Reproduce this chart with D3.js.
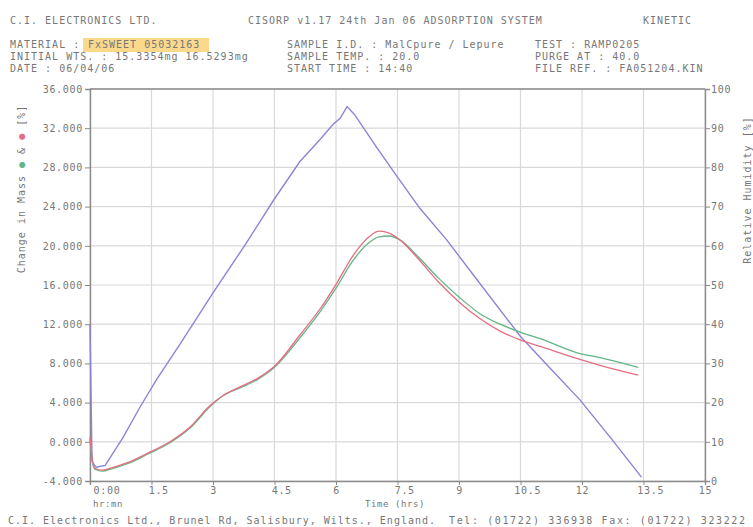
<!DOCTYPE html>
<html><head><meta charset="utf-8">
<script src="https://cdn.jsdelivr.net/npm/d3@7"></script>
<style>
html,body{margin:0;padding:0;background:#fff;}
svg{display:block;}
text{font-family:"DejaVu Sans Mono","Liberation Mono",monospace;font-size:10px;fill:#777;}
</style></head>
<body>
<script>
// ---- data ----
const xTicks = [0, 1.5, 3, 4.5, 6, 7.5, 9, 10.5, 12, 13.5, 15];
const xTickLabels = ["0:00", "1.5", "3", "4.5", "6", "7.5", "9", "10.5", "12", "13.5", "15"];
const yLeftTicks = [36, 32, 28, 24, 20, 16, 12, 8, 4, 0, -4];
const yLeftLabels = ["36.000", "32.000", "28.000", "24.000", "20.000", "16.000", "12.000", "8.000", "4.000", "0.000", "-4.000"];
const yRightTicks = [100, 90, 80, 70, 60, 50, 40, 30, 20, 10, 0];

// relative humidity (%), right axis
const timeRH = [0, 0.05, 0.15, 0.37, 0.8, 1.2, 1.63, 2.2, 3.0, 3.8, 4.5, 5.12, 5.6, 5.93, 6.1, 6.27, 6.45, 7.0, 7.5, 8.05, 8.7, 9.5, 10.49, 11.2, 11.95, 12.7, 13.45];
const humidity = [40, 5, 3.5, 4, 11, 18.5, 26, 35, 48, 60.5, 72, 81.5, 87, 91, 92.5, 95.5, 93.5, 85, 77.5, 69.5, 61.5, 50.5, 37, 29, 20.7, 11, 1];

// change in mass (%), left axis
const timeMass = [0, 0.05, 0.12, 0.3, 0.56, 1.0, 1.39, 1.95, 2.44, 2.93, 3.24, 3.66, 4.1, 4.5, 5.12, 5.6, 6.02, 6.4, 6.8, 7.05, 7.3, 7.56, 8.0, 8.5, 9.02, 9.5, 10.0, 10.49, 11.0, 11.95, 12.44, 13.37];
const massA = [0.3, -1.8, -2.8, -3.0, -2.7, -2.1, -1.3, -0.1, 1.4, 3.6, 4.7, 5.5, 6.4, 7.6, 10.6, 13.2, 15.8, 18.4, 20.3, 20.9, 21.0, 20.6, 18.9, 16.7, 14.7, 13.1, 12.0, 11.2, 10.5, 9.0, 8.6, 7.6];
const massB = [0.5, -1.6, -2.7, -2.9, -2.6, -2.0, -1.2, 0.0, 1.5, 3.7, 4.7, 5.6, 6.5, 7.7, 10.9, 13.5, 16.2, 18.9, 20.9, 21.5, 21.3, 20.6, 18.7, 16.3, 14.2, 12.6, 11.3, 10.4, 9.7, 8.4, 7.8, 6.8];

const headerLines = [
  {x: 10, y: 24, t: "C.I. ELECTRONICS LTD."},
  {x: 248, y: 24, t: "CISORP v1.17 24th Jan 06  ADSORPTION SYSTEM"},
  {x: 643, y: 24, t: "KINETIC"},
  {x: 10, y: 48, t: "MATERIAL :"},
  {x: 10, y: 60, t: "INITIAL WTS. :  15.3354mg  16.5293mg"},
  {x: 10, y: 72, t: "DATE : 06/04/06"},
  {x: 287, y: 48, t: "SAMPLE I.D. : MalCpure / Lepure"},
  {x: 287, y: 60, t: "SAMPLE TEMP. : 20.0"},
  {x: 287, y: 72, t: "START TIME : 14:40"},
  {x: 535, y: 48, t: "TEST : RAMP0205"},
  {x: 535, y: 60, t: "PURGE AT : 40.0"},
  {x: 535, y: 72, t: "FILE REF. : FA051204.KIN"}
];
const materialName = "FxSWEET 05032163";

// ---- drawing ----
const W = 753, H = 527;
const colA = "#62b584", colB = "#e56f82", colRH = "#8c84d6";
const svg = d3.select("body").append("svg").attr("width", W).attr("height", H);

const x = d3.scaleLinear().domain([0, 15]).range([90, 705]);
const yL = d3.scaleLinear().domain([-4, 36]).range([481, 89]);
const yR = d3.scaleLinear().domain([0, 100]).range([481, 89]);

// header
const ls = 1.0;
svg.append("rect").attr("x", 83).attr("y", 38).attr("width", 126).attr("height", 14).attr("fill", "#fbd98c");
headerLines.forEach(h => {
  svg.append("text").attr("x", h.x).attr("y", h.y).attr("letter-spacing", ls).text(h.t);
});
svg.append("text").attr("x", 88).attr("y", 48).attr("letter-spacing", ls).text(materialName);

// grid
const g = svg.append("g");
g.selectAll("line.hg").data(yLeftTicks).join("line")
  .attr("x1", x(0)).attr("x2", x(15)).attr("y1", d => yL(d)).attr("y2", d => yL(d))
  .attr("stroke", "#d9d9d9").attr("stroke-width", 1.2);
g.selectAll("line.vg").data(xTicks).join("line")
  .attr("x1", d => x(d)).attr("x2", d => x(d)).attr("y1", yL(36)).attr("y2", yL(-4))
  .attr("stroke", "#d9d9d9").attr("stroke-width", 1.2);

// axes
const axL = d3.axisLeft(yL).tickValues(yLeftTicks).tickSize(5).tickPadding(2)
  .tickFormat((d, i) => yLeftLabels[i]);
const gL = svg.append("g").attr("transform", `translate(${x(0)},0)`).call(axL);
const axR = d3.axisRight(yR).tickValues(yRightTicks).tickSize(5).tickPadding(1);
const gR = svg.append("g").attr("transform", `translate(${x(15)},0)`).call(axR);
const axB = d3.axisBottom(x).tickValues(xTicks).tickSize(4).tickPadding(2)
  .tickFormat((d, i) => xTickLabels[i]);
const gB = svg.append("g").attr("transform", `translate(0,${yL(-4)})`).call(axB);
[gL, gR, gB].forEach(a => {
  a.select(".domain").attr("stroke", "#8a8a8a").attr("stroke-width", 1.4);
  a.selectAll(".tick line").attr("stroke", "#8a8a8a");
  a.selectAll("text").attr("fill", "#777").style("font-size", "10px")
   .style("font-family", '"DejaVu Sans Mono","Liberation Mono",monospace').attr("letter-spacing", 0.7);
});
// integer part centred on the tick
gB.selectAll(".tick text").attr("text-anchor", "start").attr("dx", (d, i) => {
  const s = xTickLabels[i];
  if (i === 0) return 3;
  const intLen = s.split(".")[0].length;
  return -intLen * 6.7 / 2;
});
// top border
svg.append("line").attr("x1", x(0)).attr("x2", x(15)).attr("y1", yL(36)).attr("y2", yL(36))
  .attr("stroke", "#8a8a8a").attr("stroke-width", 1.4);

// lines
const lineRH = d3.line().x((d, i) => x(timeRH[i])).y(d => yR(d));
svg.append("path").datum(humidity).attr("d", lineRH).attr("fill", "none")
  .attr("stroke", colRH).attr("stroke-width", 1.4);

const lineM = d3.line().x((d, i) => x(timeMass[i])).y(d => yL(d)).curve(d3.curveMonotoneX);
svg.append("path").datum(massA).attr("d", lineM).attr("fill", "none")
  .attr("stroke", colA).attr("stroke-width", 1.3);
svg.append("path").datum(massB).attr("d", lineM).attr("fill", "none")
  .attr("stroke", colB).attr("stroke-width", 1.3);

// axis labels
svg.append("text").attr("x", 108).attr("y", 507).attr("text-anchor", "middle").attr("letter-spacing", 0.6)
  .style("font-size", "9px").text("hr:mn");
svg.append("text").attr("x", 395).attr("y", 507).attr("text-anchor", "middle").attr("letter-spacing", 0.6)
  .style("font-size", "9px").text("Time (hrs)");

const yl = svg.append("text").attr("transform", "translate(25,189) rotate(-90)")
  .attr("text-anchor", "middle").attr("letter-spacing", 1);
yl.append("tspan").text("Change in Mass ");
yl.append("tspan").attr("fill", colA).text("●");
yl.append("tspan").text(" & ");
yl.append("tspan").attr("fill", colB).text("●");
yl.append("tspan").text(" [%]");

svg.append("text").attr("transform", "translate(751,190) rotate(-90)")
  .attr("text-anchor", "middle").attr("letter-spacing", 1).attr("fill", colRH)
  .text("Relative Humidity [%]");

// footer
svg.append("text").attr("x", 8).attr("y", 524).attr("textLength", 427).attr("lengthAdjust", "spacing")
  .text("C.I. Electronics Ltd., Brunel Rd, Salisbury, Wilts., England.");
svg.append("text").attr("x", 449).attr("y", 524).attr("textLength", 296).attr("lengthAdjust", "spacing")
  .text("Tel: (01722) 336938  Fax: (01722) 323222");
</script>
</body></html>
